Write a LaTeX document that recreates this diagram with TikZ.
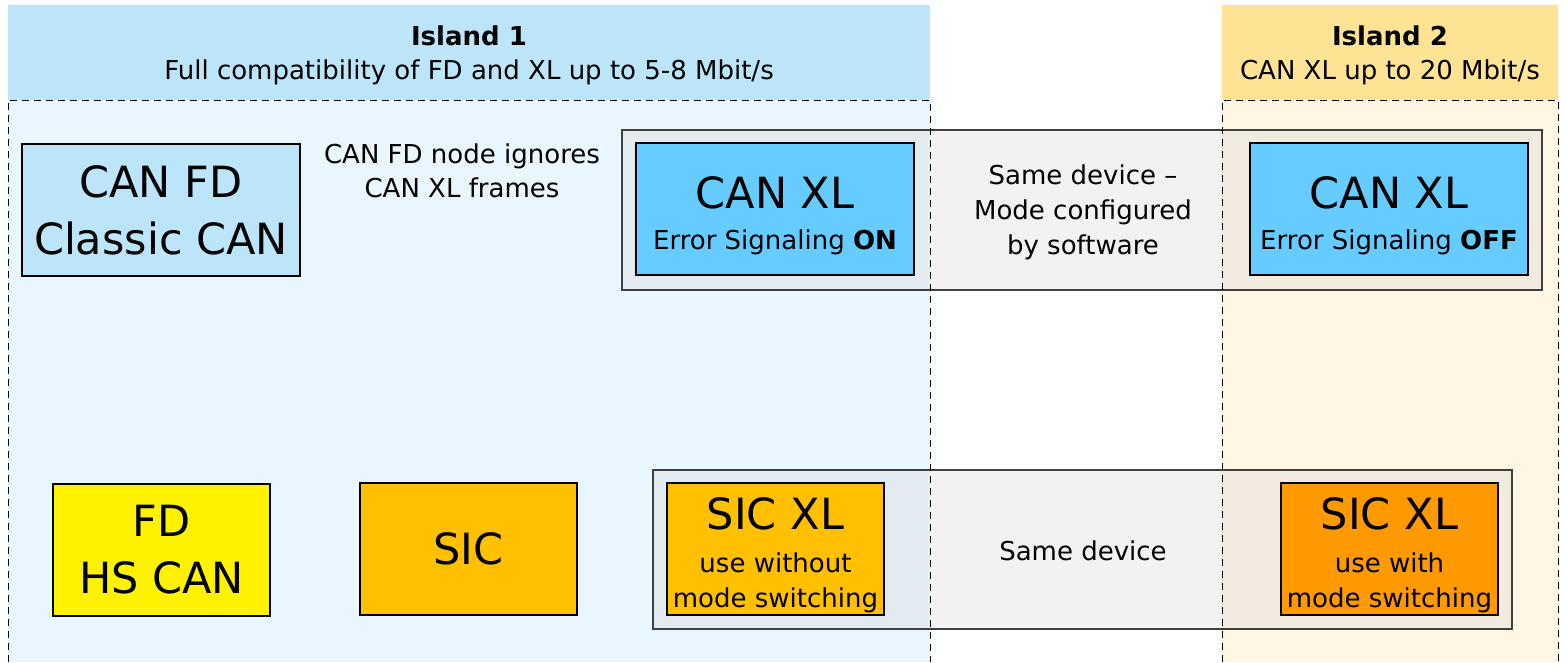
\documentclass[tikz,border=0pt]{standalone}
\usepackage{fontspec}
\setmainfont{DejaVu Sans}
\definecolor{hdrA}{HTML}{BDE5FA}
\definecolor{regA}{HTML}{EAF6FD}
\definecolor{hdrB}{HTML}{FFE394}
\definecolor{regB}{HTML}{FFF6E3}
\definecolor{xlblue}{HTML}{66CCFF}
\definecolor{fdblue}{HTML}{BDE5FA}
\definecolor{sicor}{HTML}{FFC000}
\definecolor{sicdk}{HTML}{FF9900}
\definecolor{grayfill}{HTML}{D9D9D9}
\definecolor{grayedge}{HTML}{404040}
\newcommand{\BigF}{\fontsize{43}{57}\selectfont}
\newcommand{\SmF}{\fontsize{26}{35}\selectfont}
\tikzset{
  dev/.style={draw=black, line width=1.2pt, align=center, inner sep=0pt, text=black},
  bigdev/.style={dev, minimum width=278pt, minimum height=132pt},
  smalldev/.style={dev, minimum width=217pt, minimum height=132pt},
  grp/.style={draw=grayedge, line width=1.4pt, fill=grayfill, fill opacity=0.35},
  border/.style={draw=black, line width=1pt, dash pattern=on 7pt off 5pt},
  lbl/.style={align=center, inner sep=0pt, font=\SmF},
}
\begin{document}
\begin{tikzpicture}[x=1pt,y=-1pt]
\useasboundingbox (0,0) rectangle (1567,662);
% headers and regions
\fill[hdrA] (8,5) rectangle (930,100);
\fill[regA] (8,100) rectangle (930,662);
\fill[hdrB] (1222,5) rectangle (1558,100);
\fill[regB] (1222,100) rectangle (1558,662);
\node[lbl] (h1) at (469,55) {\SmF\textbf{Island 1}\\[-1pt]\SmF Full compatibility of FD and XL up to 5-8 Mbit/s};
\node[lbl] (h2) at (1390,55) {\SmF\textbf{Island 2}\\[-1pt]\SmF CAN XL up to 20 Mbit/s};
% group boxes
\path[grp] (622,130) rectangle (1542,290);
\path[grp] (653,470) rectangle (1512,629);
\coordinate (g1) at (1083,212);
\coordinate (g2) at (1083,551);
% dashed borders
\draw[border] (8,662) -- (8,100) -- (930,100) -- (930,662);
\draw[border] (1222,662) -- (1222,100) -- (1558,100) -- (1558,662);
% devices
\node[bigdev, fill=fdblue, font=\BigF] (fd) at (161,210) {\BigF CAN FD\\\BigF Classic CAN};
\node[bigdev, fill=xlblue, font=\SmF] (xl1) at (775,209) {\BigF\rule{0pt}{45pt}CAN XL\\[6pt]\SmF Error Signaling \textbf{ON}};
\node[bigdev, fill=xlblue, font=\SmF] (xl2) at (1389,209) {\BigF\rule{0pt}{45pt}CAN XL\\[6pt]\SmF Error Signaling \textbf{OFF}};
\node[smalldev, fill=yellow, font=\BigF] (hs) at (161.5,550) {\BigF FD\\\BigF HS CAN};
\node[smalldev, fill=sicor, font=\BigF] (sic) at (468.5,549) {\BigF SIC};
\node[smalldev, fill=sicor, font=\SmF] (sx1) at (775.5,549) {\BigF\rule{0pt}{43.5pt}SIC XL\\[8pt]\SmF use without\\\SmF mode switching};
\node[smalldev, fill=sicdk, font=\SmF] (sx2) at (1389.5,549) {\BigF\rule{0pt}{43.5pt}SIC XL\\[8pt]\SmF use with\\\SmF mode switching};
% labels
\node[lbl] (ign) at (462,171) {\SmF CAN FD node ignores\\[-1pt]\SmF CAN XL frames};
\node[lbl] (sd1) at (g1) {\SmF Same device –\\\SmF Mode configured\\\SmF by software};
\node[lbl] (sd2) at (g2) {\SmF Same device};
\end{tikzpicture}
\end{document}
